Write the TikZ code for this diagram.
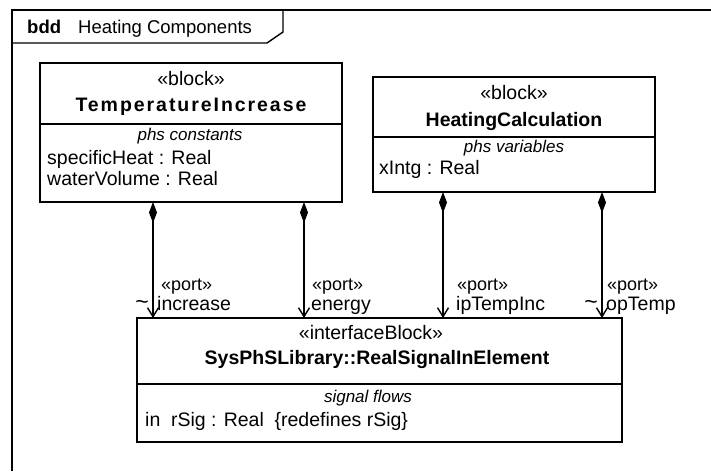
\documentclass[tikz,border=0pt]{standalone}
\usepackage{fontspec}
\setmainfont{Liberation Sans}
\usetikzlibrary{arrows.meta}
\begin{document}
\begin{tikzpicture}[x=1pt,y=-1pt,
  frame/.style={line width=1.4pt},
  box/.style={draw, line width=1.4pt, inner sep=0pt, outer sep=0pt, anchor=north west},
  sepline/.style={line width=1.4pt},
  txt/.style={inner sep=0pt, text height=14pt, text depth=4pt, font=\fontsize{19.5}{20}\selectfont},
  hdr/.style={inner sep=0pt, text height=12pt, text depth=3pt, font=\fontsize{17}{18}\selectfont\itshape},
  portl/.style={inner sep=0pt, anchor=west, text height=13pt, text depth=3pt, font=\fontsize{18}{18}\selectfont},
  tld/.style={inner sep=0pt, font=\fontsize{23}{23}\selectfont},
  comp/.style={line width=1.4pt, {Diamond[length=21pt,width=8pt]}-{Straight Barb[length=9pt,width=11pt]}}]
\useasboundingbox (0,0) rectangle (711,471);
% frame
\draw[frame] (12,471) -- (12,10) -- (711,10);
\draw[frame] (12,43) -- (267,43) -- (283,32) -- (283,10);
\node[txt, anchor=west, font=\fontsize{18.5}{19}\selectfont\bfseries] (bdd) at (27,28) {bdd};
\node[txt, anchor=west, font=\fontsize{18.5}{19}\selectfont] (ttl) at (78,28) {Heating Components};

% TemperatureIncrease
\node[box, minimum width=302pt, minimum height=139pt] (ti) at (40,63) {};
\draw[sepline] (ti.west |- 0,124) coordinate (tisl) -- (ti.east |- tisl);
\node[txt] (tist) at (191,80) {«block»};
\node[txt, font=\fontsize{19.5}{20}\selectfont\bfseries\addfontfeature{LetterSpace=10}] (tinm) at (191,106) {TemperatureIncrease};
\node[hdr] (tihd) at (190,136) {phs constants};
\node[txt, anchor=west] (tia1) at (47,159) {specificHeat : Real};
\node[txt, anchor=west] (tia2) at (47,180) {waterVolume : Real};

% HeatingCalculation
\node[box, minimum width=282pt, minimum height=115pt] (hc) at (373,77) {};
\draw[sepline] (hc.west |- 0,137) coordinate (hcsl) -- (hc.east |- hcsl);
\node[txt] (hcst) at (514,94) {«block»};
\node[txt, font=\fontsize{19.5}{20}\selectfont\bfseries] (hcnm) at (514,121) {HeatingCalculation};
\node[hdr] (hchd) at (514,148) {phs variables};
\node[txt, anchor=west] (hca1) at (379,169) {xIntg : Real};

% Interface block
\node[box, minimum width=485pt, minimum height=124pt] (ib) at (137,318) {};
\draw[sepline] (ib.west |- 0,384) coordinate (ibsl) -- (ib.east |- ibsl);
\node[txt] (ibst) at (371,334) {«interfaceBlock»};
\node[txt, font=\fontsize{19.5}{20}\selectfont\bfseries] (ibnm) at (377,359) {SysPhSLibrary::RealSignalInElement};
\node[hdr] (ibhd) at (368,398) {signal flows};
\node[txt, anchor=west] (iba1) at (145,421) {in\hspace{0.55em}rSig : Real\hspace{0.55em}\{redefines rSig\}};

% connectors
\draw[comp] ([xshift=113pt]ti.south west) -- ([xshift=113pt]ti.south west |- ib.north) coordinate (p1);
\draw[comp] ([xshift=264pt]ti.south west) -- ([xshift=264pt]ti.south west |- ib.north) coordinate (p2);
\draw[comp] ([xshift=70pt]hc.south west) -- ([xshift=70pt]hc.south west |- ib.north) coordinate (p3);
\draw[comp] ([xshift=229pt]hc.south west) -- ([xshift=229pt]hc.south west |- ib.north) coordinate (p4);

% port labels
\node[portl] (p1s) at (161,285) {«port»};
\node[portl, font=\fontsize{19.5}{20}\selectfont] (p1n) at (157,305) {increase};
\node[tld] (p1t) at (142,305) {\textasciitilde};
\node[portl] (p2s) at (312,285) {«port»};
\node[portl, font=\fontsize{19.5}{20}\selectfont] (p2n) at (311,305) {energy};
\node[portl] (p3s) at (457,285) {«port»};
\node[portl, font=\fontsize{19.5}{20}\selectfont] (p3n) at (456,305) {ipTempInc};
\node[portl] (p4s) at (607,285) {«port»};
\node[portl, font=\fontsize{19.5}{20}\selectfont] (p4n) at (606,305) {opTemp};
\node[tld] (p4t) at (591,305) {\textasciitilde};
\end{tikzpicture}
\end{document}
